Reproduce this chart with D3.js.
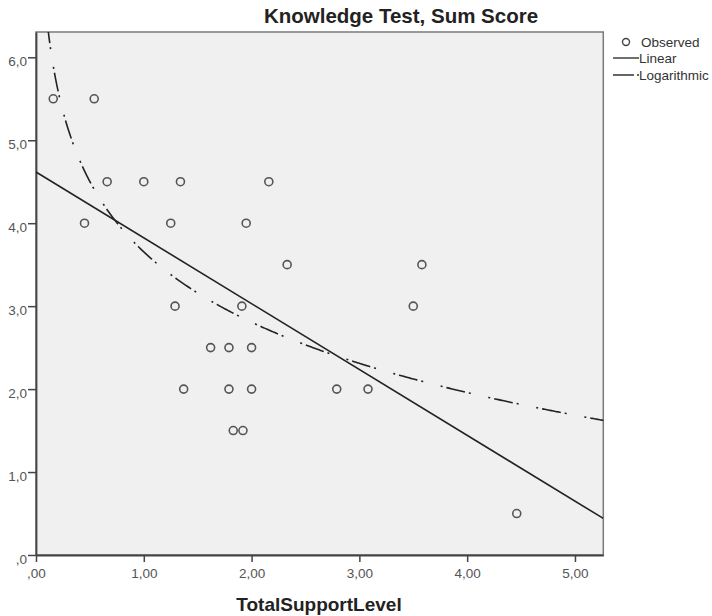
<!DOCTYPE html>
<html>
<head>
<meta charset="utf-8">
<script src="https://cdn.jsdelivr.net/npm/d3@7"></script>
<style>
  body { margin: 0; background: #fff; }
  text { font-family: "Liberation Sans", Arial, sans-serif; }
</style>
</head>
<body>
<div id="chart"></div>
<script>
// Observed points (TotalSupportLevel, Knowledge Test sum score)
const supportLevel = [0.16, 0.54, 0.66, 1.00, 1.34, 2.16, 0.45, 1.25, 1.95, 2.33, 3.58, 1.29, 1.91,
    3.50, 1.62, 1.79, 2.00, 1.37, 1.79, 2.00, 2.79, 3.08, 1.83, 1.92, 4.46];
const sumScore = [5.5, 5.5, 4.5, 4.5, 4.5, 4.5, 4.0, 4.0, 4.0, 3.5, 3.5, 3.0, 3.0,
    3.0, 2.5, 2.5, 2.5, 2.0, 2.0, 2.0, 2.0, 2.0, 1.5, 1.5, 0.5];

// Fitted curves, coefficients
const linearFit = { intercept: 4.617, slope: -0.7935 };
const logFit = { constant: 3.654, coef: -1.223 };

// Axis ticks
const xTicks = [0, 1, 2, 3, 4, 5];
const xTickLabels = [",00", "1,00", "2,00", "3,00", "4,00", "5,00"];
const yTicks = [0, 1, 2, 3, 4, 5, 6];
const yTickLabels = [",0", "1,0", "2,0", "3,0", "4,0", "5,0", "6,0"];

const legendItems = ["Observed", "Linear", "Logarithmic"];

const W = 712, H = 616;
const plot = { left: 36, right: 603.3, top: 32, bottom: 555 };

const svg = d3.select("#chart").append("svg")
    .attr("width", W)
    .attr("height", H);

const x = d3.scaleLinear().domain([0, 5.263]).range([plot.left, plot.right]);
const y = d3.scaleLinear().domain([0, 6.305]).range([plot.bottom, plot.top]);

svg.append("clipPath").attr("id", "plot-clip")
    .append("rect")
    .attr("x", plot.left).attr("y", plot.top)
    .attr("width", plot.right - plot.left)
    .attr("height", plot.bottom - plot.top);

// Plot background and frame
svg.append("rect")
    .attr("x", plot.left).attr("y", plot.top)
    .attr("width", plot.right - plot.left)
    .attr("height", plot.bottom - plot.top)
    .attr("fill", "#f0f0f0")
    .attr("stroke", "#7a7a7a")
    .attr("stroke-width", 1.5);

// Axes
const xAxis = svg.append("g")
    .attr("transform", `translate(0,${plot.bottom})`)
    .call(d3.axisBottom(x).tickValues(xTicks).tickSize(7).tickSizeOuter(0)
        .tickFormat((d, i) => xTickLabels[i]));

const yAxis = svg.append("g")
    .attr("transform", `translate(${plot.left},0)`)
    .call(d3.axisLeft(y).tickValues(yTicks).tickSize(8).tickSizeOuter(0)
        .tickFormat((d, i) => yTickLabels[i]));

[xAxis, yAxis].forEach(g => {
    g.select(".domain").attr("stroke", "#444").attr("stroke-width", 1.8);
    g.selectAll(".tick line").attr("stroke", "#444").attr("stroke-width", 1.5);
    g.selectAll(".tick text")
        .attr("fill", "#555")
        .style("font-size", "13.5px")
        .style("font-family", "'Liberation Sans', Arial, sans-serif");
});
xAxis.selectAll(".tick text").attr("y", 23).attr("dy", null);
yAxis.selectAll(".tick text").attr("x", -9).attr("dy", "0.6em");

// Fit lines
const lines = svg.append("g").attr("clip-path", "url(#plot-clip)");

const linearPts = x.domain().map(v => [v, linearFit.intercept + linearFit.slope * v]);
lines.append("path")
    .datum(linearPts)
    .attr("d", d3.line().x(d => x(d[0])).y(d => y(d[1])))
    .attr("fill", "none")
    .attr("stroke", "#222")
    .attr("stroke-width", 1.6);

const logX = d3.range(0.1, 5.3, 0.01);
const logPts = logX.map(v => [v, logFit.constant + logFit.coef * Math.log(v)]);
lines.append("path")
    .datum(logPts)
    .attr("d", d3.line().x(d => x(d[0])).y(d => y(d[1])))
    .attr("fill", "none")
    .attr("stroke", "#222")
    .attr("stroke-width", 1.6)
    .attr("stroke-dasharray", "2,4,19,4,2,18");

// Observed points
svg.append("g")
    .selectAll("circle")
    .data(supportLevel.map((v, i) => ({ x: v, y: sumScore[i] })))
    .join("circle")
    .attr("cx", d => x(d.x))
    .attr("cy", d => y(d.y))
    .attr("r", 4)
    .attr("fill", "none")
    .attr("stroke", "#555")
    .attr("stroke-width", 1.6);

// Title and axis label
svg.append("text")
    .attr("x", 401)
    .attr("y", 23)
    .attr("text-anchor", "middle")
    .style("font-size", "20.5px")
    .style("font-weight", "bold")
    .attr("fill", "#222")
    .text("Knowledge Test, Sum Score");

svg.append("text")
    .attr("x", 319)
    .attr("y", 611)
    .attr("text-anchor", "middle")
    .style("font-size", "19px")
    .style("font-weight", "bold")
    .attr("fill", "#222")
    .text("TotalSupportLevel");

// Legend
const legend = svg.append("g");
legend.append("circle")
    .attr("cx", 626).attr("cy", 42).attr("r", 3.5)
    .attr("fill", "none").attr("stroke", "#444").attr("stroke-width", 1.4);
legend.append("line")
    .attr("x1", 613).attr("x2", 639).attr("y1", 58).attr("y2", 58)
    .attr("stroke", "#333").attr("stroke-width", 1.4);
legend.append("line")
    .attr("x1", 613).attr("x2", 639).attr("y1", 75).attr("y2", 75)
    .attr("stroke", "#333").attr("stroke-width", 1.4)
    .attr("stroke-dasharray", "21,3,2,20");
legend.selectAll("text.lg")
    .data(legendItems)
    .join("text")
    .attr("class", "lg")
    .attr("x", (d, i) => i === 0 ? 641 : 639)
    .attr("y", (d, i) => [47, 63, 80][i])
    .style("font-size", "13.5px")
    .attr("fill", "#333")
    .text(d => d);
</script>
</body>
</html>
